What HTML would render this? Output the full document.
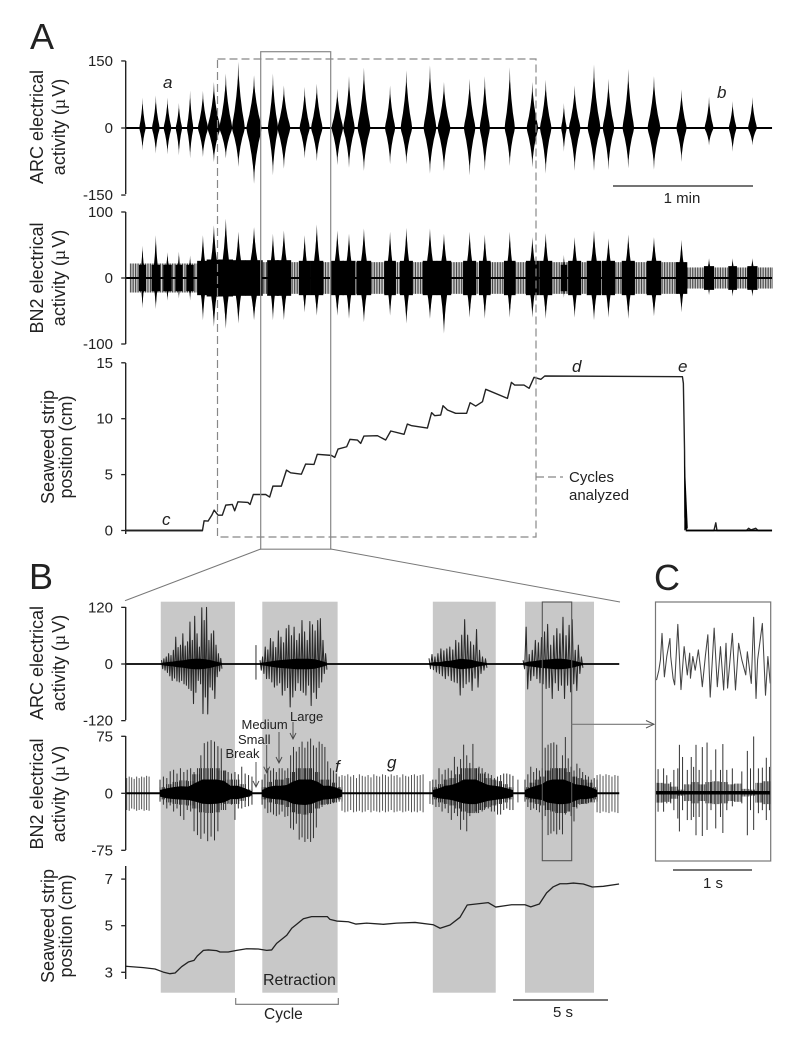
<!DOCTYPE html>
<html lang="en">
<head>
<meta charset="utf-8">
<title>Seaweed strip position and electrical activity</title>
<style>
html,body{margin:0;padding:0;background:#fff}
svg{display:block;font-family:"Liberation Sans",sans-serif;fill:#222}
text{fill:#222}
</style>
</head>
<body>
<svg id="fig" xmlns="http://www.w3.org/2000/svg" width="800" height="1038" viewBox="0 0 800 1038">
  <rect x="0" y="0" width="800" height="1038" style="fill:#fff"/>
  <g id="bands"></g>
  <g id="traces"></g>
  <g id="axes"></g>

  <text x="30" y="49" font-size="36">A</text>
  <text x="29" y="589" font-size="36">B</text>
  <text x="654" y="590" font-size="36">C</text>

  <g font-size="18" text-anchor="middle">
    <text transform="translate(43,127) rotate(-90)">ARC electrical</text>
    <text transform="translate(65,127) rotate(-90)">activity (<tspan font-family="Liberation Serif">µ</tspan><tspan dx="2">V)</tspan></text>
    <text transform="translate(43,278) rotate(-90)">BN2 electrical</text>
    <text transform="translate(65,278) rotate(-90)">activity (<tspan font-family="Liberation Serif">µ</tspan><tspan dx="2">V)</tspan></text>
    <text transform="translate(54,447) rotate(-90)">Seaweed strip</text>
    <text transform="translate(72,447) rotate(-90)">position (cm)</text>
    <text transform="translate(43,663) rotate(-90)">ARC electrical</text>
    <text transform="translate(65,663) rotate(-90)">activity (<tspan font-family="Liberation Serif">µ</tspan><tspan dx="2">V)</tspan></text>
    <text transform="translate(43,794) rotate(-90)">BN2 electrical</text>
    <text transform="translate(65,794) rotate(-90)">activity (<tspan font-family="Liberation Serif">µ</tspan><tspan dx="2">V)</tspan></text>
    <text transform="translate(54,926) rotate(-90)">Seaweed strip</text>
    <text transform="translate(72,926) rotate(-90)">position (cm)</text>
  </g>

  <g font-size="17" font-style="italic">
    <text x="163" y="88">a</text>
    <text x="717" y="98">b</text>
    <text x="162" y="525">c</text>
    <text x="572" y="372">d</text>
    <text x="678" y="372">e</text>
    <text x="335" y="772">f</text>
    <text x="387" y="768">g</text>
  </g>

  <g style="fill:none">
    <rect x="217.5" y="59" width="318.5" height="478" fill="none" stroke="#888" stroke-width="1.2" stroke-dasharray="8 4"/>
    <rect x="260.7" y="51.7" width="70" height="497.5" fill="none" stroke="#888" stroke-width="1.2"/>
    <line x1="260.7" y1="549" x2="125" y2="600.7" stroke="#777" stroke-width="1"/>
    <line x1="330.7" y1="549" x2="620" y2="602" stroke="#777" stroke-width="1"/>
    <line x1="536" y1="477" x2="563" y2="477" stroke="#888" stroke-width="1.2" stroke-dasharray="8 4"/>
    <rect x="542.3" y="602" width="29.4" height="258.7" fill="none" stroke="#555" stroke-width="1.1"/>
    <line x1="571.7" y1="724.3" x2="654" y2="724.3" stroke="#777" stroke-width="1.1"/>
    <polyline points="646,720.5 654,724.3 646,728" fill="none" stroke="#555" stroke-width="1"/>
    <rect x="655.5" y="602" width="115.2" height="259" fill="none" stroke="#777" stroke-width="1.2"/>
  </g>

  <g>
    <text x="569" y="482" font-size="15">Cycles</text>
    <text x="569" y="500" font-size="15">analyzed</text>
    <text x="290" y="721" font-size="13">Large</text>
    <text x="241.5" y="729" font-size="13">Medium</text>
    <text x="238" y="744" font-size="13">Small</text>
    <text x="225.5" y="758" font-size="13">Break</text>
    <g style="fill:none" stroke="#444" stroke-width="0.9">
      <path d="M256 762V787M253 781L256 787L259 781" fill="none"/>
      <path d="M266.7 745V772.7M263.7 766.7L266.7 772.7L269.7 766.7" fill="none"/>
      <path d="M279 732V763M276 757L279 763L282 757" fill="none"/>
      <path d="M293 722V739M290 733L293 739L296 733" fill="none"/>
    </g>
    <text x="263" y="985" font-size="16">Retraction</text>
    <path d="M235.7 998V1004.3H338.3V998" fill="none" stroke="#777" stroke-width="1.1"/>
    <text x="264" y="1019" font-size="15.5">Cycle</text>
    <line x1="613" y1="186" x2="753" y2="186" stroke="#222" stroke-width="1.2"/>
    <text x="682" y="203" font-size="15" text-anchor="middle">1 min</text>
    <line x1="513" y1="1000" x2="608" y2="1000" stroke="#222" stroke-width="1.2"/>
    <text x="563" y="1017" font-size="15" text-anchor="middle">5 s</text>
    <line x1="673" y1="870" x2="752" y2="870" stroke="#222" stroke-width="1.2"/>
    <text x="713" y="888" font-size="15" text-anchor="middle">1 s</text>
  </g>
</svg>

<script>
// ---------- Panel A data (time in seconds, amplitude in µV, position in cm) ----------
const burstTimesA = [7.2,12.9,17.9,22.8,27.6,33.1,37.8,42.9,48.3,55.0,63.1,67.8,76.7,81.9,90.7,95.7,102.1,113.3,120.3,130.4,136.4,147.4,153.9,164.6,174.3,180.0,187.8,192.4,200.7,206.9,215.4,226.4,238.2,250.0,260.1,268.6];
const burstDurationsA = [2.5,3,3,2.5,2.5,4,5,5,5,6,4,5,4,4.5,4.5,4.5,5,4,4.5,5,5,4.5,4,4,4.5,4.5,2.2,4.5,5,4.5,4.5,5,4,3.5,3,3.5];
const arcPeakUpA = [68,73,68,56,84,83,103,122,148,118,122,95,92,99,88,116,135,95,129,140,103,110,116,136,103,108,56,95,142,110,132,116,86,70,60,69];
const arcPeakDownA = [50,57,59,61,68,65,76,68,87,125,106,91,68,74,83,89,96,81,81,102,96,106,96,85,88,102,53,96,96,94,90,93,76,39,53,39];
const bn2PeakUpA = [49,65,39,40,34,65,80,90,70,77,67,72,65,81,72,67,75,70,76,75,67,70,66,70,62,68,35,62,72,60,66,62,58,30,30,30];
const bn2PeakDownA = [46,47,34,31,34,64,74,77,69,64,64,64,52,57,57,62,67,57,69,62,84,60,62,60,60,62,30,60,64,60,62,58,52,26,28,28];
const bn2PlateauA = [20,20,20,20,20,26,28,28,27,27,27,27,26,26,26,26,26,26,26,26,26,26,26,26,26,26,20,26,26,26,26,26,24,18,18,18];
const bn2BandStarts = [2,33,240];
const bn2BandEnds = [33,240,277];
const bn2BandAmps = [22,24,16];
const positionTimesA = [0,32.9,33.6,35.3,36.9,37.9,39.6,41.4,42.9,45.7,46.7,48.1,52.4,53.3,54.7,60,61.7,63.1,66.7,68.9,70.7,75.3,77.1,80.7,82.1,88.1,89.6,91,94.7,96.1,99.3,100.7,102.1,107.9,111.4,113.6,119.3,120.7,122.6,129.3,131.1,132.4,135,136,137.9,141.4,143.6,146.1,147.6,150,152.9,154.3,163.6,165.3,166.7,170.7,172.9,175,177.9,179.6,238.6,239,239.5,239.7,240.3,252.1,252.9,253.4,266,267,268,270,271,277];
const positionValuesA = [0,0,.87,.84,1.37,1.82,1.37,1.37,2.27,2.33,1.76,2.57,2.51,2.33,3.22,3.22,2.99,3.97,3.97,5.4,5.16,5.04,5.94,5.91,6.81,6.72,6.54,7.28,7.49,8.15,8.09,7.79,8.45,8.48,8.09,8.9,8.6,9.52,9.37,9.16,10.54,10.27,10.33,11.16,10.78,10.48,10.48,10.48,11.43,11.13,11.52,12.63,11.82,13.25,13.01,13.01,12.72,13.7,13.52,13.82,13.76,13.16,7.19,1.22,0,0,.69,0,0,.2,.05,.2,0,0];
const dropWedgeTimes = [239.4,240.9,239.4];
const dropWedgeValues = [7.2,.2,0];

// ---------- Panel B data ----------
const retractionStarts = [1.87,7.18,16.1,20.92];
const retractionEnds = [5.75,11.12,19.39,24.53];
const arcBurstStartsB = [1.91,7.06,15.9,20.82];
const arcBurstEndsB = [5.07,10.56,18.93,23.95];
const arcBurst1 = [8,-10,11,-13,15,-18,22,-25,18,-35,29,-30,57,-36,35,-38,40,-35,64,-42,38,-45,47,-52,89,-56,50,-84,101,-60,64,-35,36,-42,119,-105,92,-70,120,-106,50,-49,64,-55,70,-73,40,-27,22,-15,12,-10];
const arcBurst2 = [8,-13,15,-20,36,-31,30,-31,54,-38,47,-49,35,-45,70,-40,57,-66,45,-56,75,-50,82,-91,60,-70,78,-56,50,-40,64,-56,92,-60,68,-66,50,-45,90,-88,83,-60,70,-73,92,-50,96,-38,50,-20,22,-12];
const arcBurst3 = [12,-10,20,-12,15,-17,22,-20,32,-25,28,-31,32,-25,36,-35,30,-38,50,-40,45,-66,61,-50,94,-42,61,-38,47,-56,40,-30,73,-49,29,-20,15,-13,11,-8];
const arcBurst4 = [8,-10,78,-53,20,-35,29,-25,50,-31,45,-40,56,-42,68,-52,84,-50,40,-73,60,-40,75,-56,64,-45,99,-73,60,-45,82,-59,94,-42,29,-56,40,-20,15,-8];
const arcCore1 = [2,4,5,7,8,10,11,11,10,8,5,2];
const arcCore2 = [2,4,6,8,9,10,11,11,11,10,7,3];
const arcCore3 = [2,4,4,6,7,9,11,10,9,6,4,2];
const arcCore4 = [2,5,6,8,9,10,11,11,10,8,5,2];
const arcBreakSpikeTime = 6.85;
const arcBreakSpikeUp = 40;
const arcBreakSpikeDown = 33;

const bn2BurstStartsB = [1.83,7.17,16.1,20.92];
const bn2BurstEndsB = [6.64,11.35,20.29,24.69];
const bn2Up1 = [18,22,20,29,31,26,33,28,31,33,28,33,50,66,68,70,68,62,59,30,28,26,28,25,35,26,24,22];
const bn2Down1 = [11,15,20,16,24,20,30,35,22,24,50,55,60,53,63,57,62,50,15,14,13,15,35,20,20,18,17,15];
const bn2Up2 = [18,25,33,30,33,28,33,33,30,33,50,61,55,61,68,60,68,72,63,60,68,65,61,42,33,30,26,22,18];
const bn2Down2 = [15,20,26,25,28,30,28,24,31,30,46,48,40,61,58,64,60,64,59,45,20,18,15,15,14,13,12,11,11];
const bn2Up3 = [18,18,33,25,31,33,30,48,35,45,64,50,40,65,33,35,33,28,26,24,20,22,24,26,26,25,23];
const bn2Down3 = [15,18,18,24,20,26,35,26,30,48,35,50,30,24,24,22,24,20,20,24,24,28,28,22,20,22,22];
const bn2Up4 = [18,25,35,28,33,30,33,60,64,66,67,64,33,50,74,46,35,30,39,33,28,24,22,18,20,18];
const bn2Down4 = [11,18,22,20,22,25,35,30,55,53,50,54,48,54,28,24,30,37,20,15,14,13,13,11,12,11];
const bn2CoreUp1 = [8,12,15,17,16,25,33,33,33,30,18,18,12,5];
const bn2CoreDown1 = [8,12,14,15,16,20,25,26,25,22,14,14,10,5];
const bn2CoreUp2 = [8,15,18,18,20,28,33,33,33,28,18,18,14,8];
const bn2CoreDown2 = [8,12,14,15,18,25,27,28,26,20,15,14,12,8];
const bn2CoreUp3 = [8,12,18,20,25,33,33,33,26,20,18,16,12,8];
const bn2CoreDown3 = [8,12,14,16,20,24,26,26,22,18,16,14,12,8];
const bn2CoreUp4 = [8,14,18,22,30,33,33,33,28,22,20,18,14,8];
const bn2CoreDown4 = [8,12,14,16,22,24,26,26,24,18,14,14,12,8];
const tonicStarts = [0.09,11.35,24.69];
const tonicEnds = [1.26,15.59,25.78];
const tonicUp1 = [20,22,21,19,22,20,22,21,23,22];
const tonicDown1 = [22,23,20,21,23,22,21,23,22,23];
const tonicUp2 = [24,23,25,22,24,20,25,23,22,24,21,25,23,22,25,24,22,25,23,24,21,25,23,22,24,25,23,24,25];
const tonicDown2 = [23,25,24,22,25,24,23,25,24,22,25,23,24,25,23,25,24,22,25,24,23,25,24,23,25,24,25,23,25];
const tonicUp3 = [24,25,23,25,24,22,24,23];
const tonicDown3 = [25,26,24,25,26,24,25,26];
const singleSpikeTimes = [15.95,20.55];
const singleSpikeUp = [16,18];
const singleSpikeDown = [14,12];
const positionTimesB = [.03,.96,1.57,2,2.35,2.62,2.96,3.31,3.61,3.78,4.1,4.36,4.79,4.97,5.4,5.84,6.36,6.97,7.41,7.67,7.93,8.46,8.72,8.98,9.33,9.76,10.58,10.72,11.07,11.68,12.08,12.64,13.51,14.21,15.17,16.13,16.48,17,17.52,17.9,19,19.39,20.22,20.92,21.22,21.67,22.05,22.4,22.75,23.1,23.45,23.97,24.44,25.02,25.84];
const positionValuesB = [3.26,3.2,3.14,3.01,2.94,2.97,3.24,3.44,3.51,3.7,3.94,3.96,3.93,3.87,3.87,3.94,4.01,4,3.94,3.96,4.24,4.59,4.89,5.06,5.3,5.39,5.39,5.27,5.2,5.17,5.07,5.11,5.06,5.11,5.14,5.04,4.89,5.03,5.36,5.89,5.99,5.8,5.9,5.9,5.81,5.93,6.41,6.67,6.8,6.8,6.83,6.79,6.66,6.69,6.79];

// ---------- Panel C data ----------
const arcTimesC = [.01,.04,.06,.08,.11,.14,.18,.19,.22,.24,.28,.32,.36,.40,.43,.44,.47,.50,.54,.57,.59,.63,.66,.69,.74,.78,.82,.86,.89,.91,.97,1.01,1.05,1.09,1.14,1.16,1.21,1.24,1.27,1.29,1.35,1.39,1.42,1.45];
const arcValuesC = [-32,-11,11,67,-25,18,56,18,-28,-42,86,-52,39,-21,25,-28,18,-11,32,-11,-46,21,64,-68,78,-46,39,-53,46,-49,67,-53,46,11,-21,28,-39,101,-71,11,88,-64,18,-39];
const bn2TimesC = [.03,.10,.14,.19,.23,.28,.30,.34,.40,.45,.48,.51,.55,.59,.65,.70,.76,.82,.85,.90,.97,1.09,1.16,1.20,1.24,1.30,1.35,1.40,1.44];
const bn2UpC = [31,32,23,14,30,32,63,47,30,47,34,63,30,60,66,30,57,30,64,30,32,28,55,32,74,32,33,46,34];
const bn2DownC = [25,25,14,14,23,34,51,23,36,36,32,56,32,57,49,23,47,32,53,23,18,14,56,23,49,27,23,36,23];
const bn2CoreC = [13,12,8,4,11,14,11,14,15,14,11,12,5,4,13,15];

// ---------- Axis ticks ----------
const ticksArcA = [150,0,-150];
const ticksBn2A = [100,0,-100];
const ticksPosA = [15,10,5,0];
const ticksArcB = [120,0,-120];
const ticksBn2B = [75,0,-75];
const ticksPosB = [7,5,3];

// ---------- Axis functions ----------
const xA = t => 125.7 + t * 7 / 3;
const xB = t => 125 + t * 19.12;
const xC = t => 655.7 + t * 79;
const yArcA = v => 128 - v * 0.447;
const yBn2A = v => 278 - v * 0.66;
const yPosA = v => 530.5 - v * 11.18;
const yArcB = v => 664 - v * 0.472;
const yBn2B = v => 793.3 - v * 0.76;
const yPosB = v => 972.3 - (v - 3) * 23.3;
const yArcC = v => 665 - v * 0.472;
const yBn2C = v => 792.7 - v * 0.76;

const NS = 'http://www.w3.org/2000/svg';
const traces = document.getElementById('traces');
const bands = document.getElementById('bands');
const axes = document.getElementById('axes');

function mk(tag, parent, props) {
  const el = document.createElementNS(NS, tag);
  for (const k in props) el.setAttribute(k, props[k]);
  parent.appendChild(el);
  return el;
}
const pts = a => a.map(p => p[0].toFixed(2) + ',' + p[1].toFixed(2)).join(' ');

const fatProfile = [[-.5,0],[-.44,.12],[-.3,.32],[-.16,.6],[-.05,.9],[0,1],[.05,.9],[.16,.6],[.3,.32],[.44,.12],[.5,0]];
const tipProfile = [[-.5,0],[-.25,.45],[-.08,.85],[0,1],[.08,.85],[.25,.45],[.5,0]];

function spindle(x, y, t, d, up, down, frac, fill, profile, parent) {
  const top = profile.map(q => [x(t + q[0] * d), y(q[1] * up * frac)]);
  const bot = profile.slice().reverse().map(q => [x(t + q[0] * d), y(-q[1] * down * frac)]);
  const el = mk('polygon', parent, {points: pts(top.concat(bot)), style: 'fill:' + fill});
  
  
}
function trace(xs, ys, color, width, parent) {
  const el = mk('polyline', parent, {points: pts(xs.map((x, i) => [x, ys[i]])), fill: 'none', stroke: color, 'stroke-width': width, 'stroke-linejoin': 'round', style: 'fill:none'});
  
  
  return el;
}
function vline(x, y1, y2, color, width, parent) {
  const el = mk('line', parent, {x1: x.toFixed(2), x2: x.toFixed(2), y1: y1.toFixed(2), y2: y2.toFixed(2), stroke: color, 'stroke-width': width});
  
  
}
function baseline(x1, x2, y, width, parent) {
  const el = mk('line', parent, {x1: x1, x2: x2, y1: y, y2: y, stroke: '#000', 'stroke-width': width});
  
  
}
function area(times, ups, downs, x, y, parent) {
  const top = ups.map((v, i) => [x(times[i]), y(v)]);
  const bot = downs.map((v, i) => [x(times[i]), y(-v)]).reverse();
  const el = mk('polygon', parent, {points: pts(top.concat(bot)), style: 'fill:#000'});
  
  
}
function spread(start, end, n) {
  const out = [];
  for (let i = 0; i < n; i++) out.push(start + (end - start) * (n === 1 ? 0 : i / (n - 1)));
  return out;
}
function axis(x, y, ticks, top, bottom, name) {
  const g = mk('g', axes, {});
  
  
  const line = mk('line', g, {x1: x, x2: x, y1: top, y2: bottom, stroke: '#222', 'stroke-width': 1.4});
  
  
  ticks.forEach(v => {
    const t = mk('line', g, {x1: x - 4.5, x2: x, y1: y(v), y2: y(v), stroke: '#222', 'stroke-width': 1.3});
    
    
    const l = mk('text', g, {x: 113, y: y(v) + 5, 'text-anchor': 'end', 'font-size': 15});
    
    
    l.textContent = String(v);
  });
}

// ---------- Panel A ----------
burstTimesA.forEach((t, i) => {
  const d = burstDurationsA[i];
  spindle(xA, yArcA, t, d * .45, arcPeakUpA[i], arcPeakDownA[i], 1, '#555', tipProfile, traces);
  spindle(xA, yArcA, t, d * 1.1, arcPeakUpA[i], arcPeakDownA[i], .8, '#000', fatProfile, traces);
});
baseline(xA(0), xA(277), yArcA(0), 2, traces);

bn2BandStarts.forEach((s, i) => {
  const n = Math.round((bn2BandEnds[i] - s) / 0.7);
  spread(s, bn2BandEnds[i], n).forEach(t => {
    vline(xA(t), yBn2A(bn2BandAmps[i]), yBn2A(-bn2BandAmps[i]), '#333', 0.9, traces);
  });
});
burstTimesA.forEach((t, i) => {
  const d = burstDurationsA[i];
  const r = mk('rect', traces, {
    x: xA(t - d * .62), y: yBn2A(bn2PlateauA[i]),
    width: xA(t + d * .62) - xA(t - d * .62),
    height: yBn2A(-bn2PlateauA[i]) - yBn2A(bn2PlateauA[i]),
    style: 'fill:#000'
  });
  
  
  spindle(xA, yBn2A, t, d * .5, bn2PeakUpA[i], bn2PeakDownA[i], 1, '#444', tipProfile, traces);
  spindle(xA, yBn2A, t, d * .95, bn2PeakUpA[i], bn2PeakDownA[i], .85, '#000', fatProfile, traces);
});
baseline(xA(0), xA(277), yBn2A(0), 2, traces);

baseline(xA(0), xA(33), yPosA(0), 1.8, traces);
trace(positionTimesA.map(xA), positionValuesA.map(yPosA), '#222', 1.4, traces);
const wedge = mk('polygon', traces, {points: pts(dropWedgeTimes.map((t, i) => [xA(t), yPosA(dropWedgeValues[i])])), style: 'fill:#000'});


baseline(xA(240), xA(277), yPosA(0), 1.8, traces);

// ---------- Panel B ----------
retractionStarts.forEach((s, i) => {
  const r = mk('rect', bands, {x: xB(s), y: 601.7, width: xB(retractionEnds[i]) - xB(s), height: 391, style: 'fill:#c8c8c8'});
  
  
});

[arcBurst1, arcBurst2, arcBurst3, arcBurst4].forEach((vals, i) => {
  const ts = spread(arcBurstStartsB[i], arcBurstEndsB[i], vals.length);
  trace(ts.map(xB), vals.map(yArcB), '#2a2a2a', 1.05, traces);
});
[arcCore1, arcCore2, arcCore3, arcCore4].forEach((core, i) => {
  area(spread(arcBurstStartsB[i], arcBurstEndsB[i], core.length), core, core, xB, yArcB, traces);
});
vline(xB(arcBreakSpikeTime), yArcB(arcBreakSpikeUp), yArcB(-arcBreakSpikeDown), '#333', 1, traces);
baseline(xB(0), xB(25.85), yArcB(0), 1.8, traces);

[[tonicUp1, tonicDown1], [tonicUp2, tonicDown2], [tonicUp3, tonicDown3]].forEach((pair, i) => {
  const ts = spread(tonicStarts[i], tonicEnds[i], pair[0].length);
  ts.forEach((t, k) => {
    vline(xB(t), yBn2B(pair[0][k]), yBn2B(-pair[1][k]), '#555', 1, traces);
  });
});
singleSpikeTimes.forEach((t, i) => {
  vline(xB(t), yBn2B(singleSpikeUp[i]), yBn2B(-singleSpikeDown[i]), '#555', 1, traces);
});
[[bn2Up1, bn2Down1, bn2CoreUp1, bn2CoreDown1], [bn2Up2, bn2Down2, bn2CoreUp2, bn2CoreDown2], [bn2Up3, bn2Down3, bn2CoreUp3, bn2CoreDown3], [bn2Up4, bn2Down4, bn2CoreUp4, bn2CoreDown4]].forEach((set, i) => {
  const s = bn2BurstStartsB[i];
  const e = bn2BurstEndsB[i];
  spread(s, e, set[0].length).forEach((t, k) => {
    vline(xB(t), yBn2B(set[0][k]), yBn2B(0), '#333', 1, traces);
  });
  spread(s, e, set[1].length).forEach((t, k) => {
    vline(xB(t), yBn2B(0), yBn2B(-set[1][k]), '#333', 1, traces);
  });
  // Dense mid-height spikes: several lines per core sample, at the sampled envelope height.
  const slot = (e - s) / set[2].length;
  set[2].forEach((v, k) => {
    spread(s + k * slot, s + (k + 1) * slot, 4).forEach(t => {
      vline(xB(t), yBn2B(v), yBn2B(-set[3][k]), '#222', 0.9, traces);
    });
  });
  area(spread(s, e, set[2].length), set[2].map(v => v * .55), set[3].map(v => v * .55), xB, yBn2B, traces);
});
baseline(xB(0), xB(25.85), yBn2B(0), 2, traces);

trace(positionTimesB.map(xB), positionValuesB.map(yPosB), '#222', 1.3, traces);

// ---------- Panel C ----------
trace(arcTimesC.map(xC), arcValuesC.map(yArcC), '#444', 1.05, traces);
const slotC = 1.45 / bn2CoreC.length;
bn2CoreC.forEach((v, k) => {
  spread(k * slotC, (k + 1) * slotC, 6).forEach(t => {
    vline(xC(t), yBn2C(v), yBn2C(-v), '#333', 0.8, traces);
  });
});
bn2TimesC.forEach((t, i) => {
  vline(xC(t), yBn2C(bn2UpC[i]), yBn2C(-bn2DownC[i]), '#333', 1, traces);
});
baseline(xC(0), xC(1.45), yBn2C(0), 3.5, traces);

// ---------- Axes ----------
axis(125.7, yArcA, ticksArcA, 61, 194, 'a-arc-y-axis');
axis(125.7, yBn2A, ticksBn2A, 212, 344, 'a-bn2-y-axis');
axis(125.7, yPosA, ticksPosA, 363, 534, 'a-position-y-axis');
axis(125.7, yArcB, ticksArcB, 607, 720, 'b-arc-y-axis');
axis(125.7, yBn2B, ticksBn2B, 736, 850, 'b-bn2-y-axis');
axis(125.7, yPosB, ticksPosB, 866, 979, 'b-position-y-axis');
</script>
</body>
</html>
